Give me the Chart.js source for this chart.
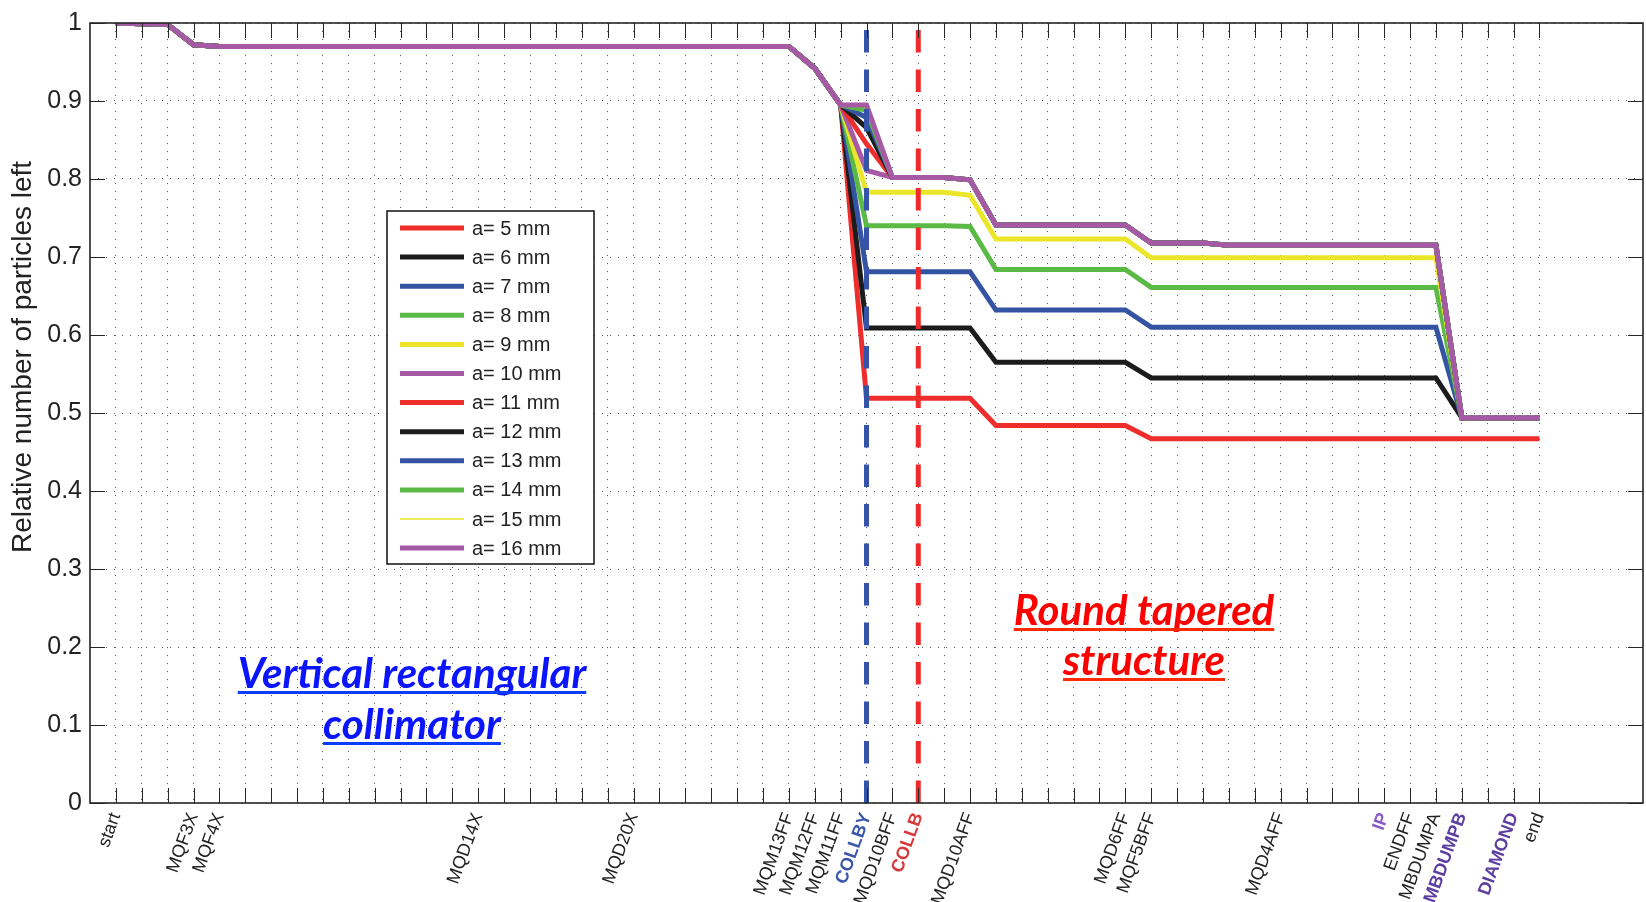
<!DOCTYPE html>
<html>
<head>
<meta charset="utf-8">
<title>Relative number of particles left</title>
<script src="https://cdn.jsdelivr.net/npm/chart.js@4.4.1/dist/chart.umd.min.js"></script>
<style>
  html, body { margin: 0; padding: 0; background: #fff; }
  #wrap { width: 1646px; height: 902px; }
</style>
</head>
<body>
<div id="wrap"><canvas id="chart" width="1646" height="902"></canvas></div>
<script>
/* ========== DATA ========== */

// beamline elements, one per x position (1..56); '' = not labelled
const elements = [
  'start','','','MQF3X','MQF4X','','','','','','','','','',                 // 1-14
  'MQD14X','','','','','','MQD20X','','','','','',                          // 15-26
  'MQM13FF','MQM12FF','MQM11FF','COLLBY','MQD10BFF','COLLB','','MQD10AFF',  // 27-34
  '','','','','','MQD6FF','MQF5BFF','','','','','MQD4AFF',                  // 35-46
  '','','','IP','ENDFF','MBDUMPA','MBDUMPB','','DIAMOND','end'              // 47-56
];

// highlighted element names on the axis
const labelColors = { COLLBY: '#3a56a8', COLLB: '#d8383a', IP: '#8c5ac6', MBDUMPB: '#5c3ea0', DIAMOND: '#5c3ea0' };

const apertures  = [5, 6, 7, 8, 9, 10, 11, 12, 13, 14, 15, 16]; // mm
const lineColors = ['#ee2d2d','#1c1c1c','#3553a3','#5bb946','#ece62a','#a65aa6',
                    '#ee2d2d','#1c1c1c','#3553a3','#5bb946','#ece62a','#a65aa6'];
const lineWidths = [5, 5, 5, 5, 5, 5, 5, 5, 5, 5, 1.5, 5];

// same for every aperture up to MQM11FF (elements 1-29)
const upstream = [1.000, 0.999, 0.998, 0.972,
  0.970, 0.970, 0.970, 0.970, 0.970, 0.970, 0.970, 0.970, 0.970, 0.970, 0.970, 0.970,
  0.970, 0.970, 0.970, 0.970, 0.970, 0.970, 0.970, 0.970, 0.970, 0.970, 0.970,
  0.942, 0.895];

// elements 30-56 (COLLBY .. end)
const tail5  = [0.519, 0.519, 0.519, 0.519, 0.519, 0.484, 0.484, 0.484, 0.484, 0.484, 0.484,
                0.467, 0.467, 0.467, 0.467, 0.467, 0.467, 0.467, 0.467, 0.467, 0.467, 0.467, 0.467, 0.467, 0.467, 0.467, 0.467];
const tail6  = [0.609, 0.609, 0.609, 0.609, 0.609, 0.565, 0.565, 0.565, 0.565, 0.565, 0.565,
                0.545, 0.545, 0.545, 0.545, 0.545, 0.545, 0.545, 0.545, 0.545, 0.545, 0.545, 0.545, 0.494, 0.494, 0.494, 0.494];
const tail7  = [0.681, 0.681, 0.681, 0.681, 0.681, 0.632, 0.632, 0.632, 0.632, 0.632, 0.632,
                0.610, 0.610, 0.610, 0.610, 0.610, 0.610, 0.610, 0.610, 0.610, 0.610, 0.610, 0.610, 0.494, 0.494, 0.494, 0.494];
const tail8  = [0.740, 0.740, 0.740, 0.740, 0.739, 0.684, 0.684, 0.684, 0.684, 0.684, 0.684,
                0.661, 0.661, 0.661, 0.661, 0.661, 0.661, 0.661, 0.661, 0.661, 0.661, 0.661, 0.661, 0.494, 0.494, 0.494, 0.494];
const tail9  = [0.783, 0.783, 0.783, 0.783, 0.779, 0.723, 0.723, 0.723, 0.723, 0.723, 0.723,
                0.699, 0.699, 0.699, 0.699, 0.699, 0.699, 0.699, 0.699, 0.699, 0.699, 0.699, 0.699, 0.494, 0.494, 0.494, 0.494];
const tail10 = [0.811, 0.802, 0.802, 0.802, 0.799, 0.741, 0.741, 0.741, 0.741, 0.741, 0.741,
                0.718, 0.718, 0.718, 0.715, 0.715, 0.715, 0.715, 0.715, 0.715, 0.715, 0.715, 0.715, 0.494, 0.494, 0.494, 0.494];
const tail11 = [0.845, 0.802, 0.802, 0.802, 0.799, 0.741, 0.741, 0.741, 0.741, 0.741, 0.741,
                0.718, 0.718, 0.718, 0.715, 0.715, 0.715, 0.715, 0.715, 0.715, 0.715, 0.715, 0.715, 0.494, 0.494, 0.494, 0.494];
const tail12 = [0.866, 0.802, 0.802, 0.802, 0.799, 0.741, 0.741, 0.741, 0.741, 0.741, 0.741,
                0.718, 0.718, 0.718, 0.715, 0.715, 0.715, 0.715, 0.715, 0.715, 0.715, 0.715, 0.715, 0.494, 0.494, 0.494, 0.494];
const tail13 = [0.879, 0.802, 0.802, 0.802, 0.799, 0.741, 0.741, 0.741, 0.741, 0.741, 0.741,
                0.718, 0.718, 0.718, 0.715, 0.715, 0.715, 0.715, 0.715, 0.715, 0.715, 0.715, 0.715, 0.494, 0.494, 0.494, 0.494];
const tail14 = [0.888, 0.802, 0.802, 0.802, 0.799, 0.741, 0.741, 0.741, 0.741, 0.741, 0.741,
                0.718, 0.718, 0.718, 0.715, 0.715, 0.715, 0.715, 0.715, 0.715, 0.715, 0.715, 0.715, 0.494, 0.494, 0.494, 0.494];
const tail15 = [0.893, 0.802, 0.802, 0.802, 0.799, 0.741, 0.741, 0.741, 0.741, 0.741, 0.741,
                0.718, 0.718, 0.718, 0.715, 0.715, 0.715, 0.715, 0.715, 0.715, 0.715, 0.715, 0.715, 0.494, 0.494, 0.494, 0.494];
const tail16 = [0.895, 0.802, 0.802, 0.802, 0.799, 0.741, 0.741, 0.741, 0.741, 0.741, 0.741,
                0.718, 0.718, 0.718, 0.715, 0.715, 0.715, 0.715, 0.715, 0.715, 0.715, 0.715, 0.715, 0.494, 0.494, 0.494, 0.494];
const tails = [tail5, tail6, tail7, tail8, tail9, tail10, tail11, tail12, tail13, tail14, tail15, tail16];

// collimator markers (vertical dashed lines)
const markers = [
  { name: 'COLLBY', color: '#3553a8' },
  { name: 'COLLB',  color: '#ee2a2a' }
];

const FONT = "'Liberation Sans', Arial, Helvetica, sans-serif";

/* ========== DATASETS ========== */

const datasets = apertures.map((a, i) => ({
  label: 'a= ' + a + ' mm',
  data: upstream.concat(tails[i]).map((v, k) => ({ x: k + 1, y: v })),
  borderColor: lineColors[i],
  borderWidth: lineWidths[i],
  order: apertures.length - i,     // larger apertures drawn on top
  pointRadius: 0,
  tension: 0
}));

markers.forEach(m => {
  const pos = elements.indexOf(m.name) + 1;
  datasets.push({
    label: m.name,
    data: [{ x: pos, y: 0 }, { x: pos, y: 1 }],
    borderColor: m.color,
    borderWidth: 5,
    borderDash: [22.5, 17],
    order: 0,
    pointRadius: 0
  });
});

/* ========== PLUGINS ========== */

// box, inward tick marks, y title, text notes and the legend
const decorations = {
  id: 'decorations',
  afterDraw(chart) {
    const { ctx, chartArea: a, scales: { x, y } } = chart;
    ctx.save();

    ctx.strokeStyle = '#262626';
    ctx.lineWidth = 1;
    ctx.beginPath();
    x.ticks.forEach(t => {
      const px = Math.round(x.getPixelForValue(t.value)) + 0.5;
      ctx.moveTo(px, a.bottom); ctx.lineTo(px, a.bottom - 15);
      ctx.moveTo(px, a.top);    ctx.lineTo(px, a.top + 15);
    });
    y.ticks.forEach(t => {
      const py = Math.round(y.getPixelForValue(t.value)) + 0.5;
      ctx.moveTo(a.left, py);  ctx.lineTo(a.left + 15, py);
      ctx.moveTo(a.right, py); ctx.lineTo(a.right - 15, py);
    });
    ctx.stroke();
    ctx.lineWidth = 1.6;
    ctx.strokeRect(a.left, a.top, a.right - a.left, a.bottom - a.top);

    // y axis title
    ctx.save();
    ctx.translate(23, 357);
    ctx.rotate(-Math.PI / 2);
    ctx.fillStyle = '#222';
    ctx.font = '28px ' + FONT;
    ctx.textAlign = 'center';
    ctx.textBaseline = 'middle';
    ctx.fillText('Relative number of particles left', 0, 0);
    ctx.restore();

    // region notes, underlined
    const notes = [
      { lines: ['Vertical rectangular', 'collimator'], cx: 412, base: [688, 739], color: '#0a14ff', line: '#0a3cff' },
      { lines: ['Round tapered', 'structure'], cx: 1144, base: [625, 675], color: '#ff0000', line: '#ff2a00' }
    ];
    ctx.font = "italic bold 42px Lato, 'Open Sans', sans-serif";
    ctx.textAlign = 'center';
    ctx.textBaseline = 'alphabetic';
    notes.forEach(n => {
      n.lines.forEach((s, i) => {
        const w = ctx.measureText(s).width;
        ctx.fillStyle = n.color;
        ctx.fillText(s, n.cx, n.base[i]);
        ctx.fillStyle = n.line;
        ctx.fillRect(n.cx - w / 2, n.base[i] + 3, w, 3);
      });
    });

    // legend box
    const lx = 387, ly = 211, lw = 207, lh = 353, row = 29.1;
    ctx.fillStyle = '#fff';
    ctx.fillRect(lx, ly, lw, lh);
    ctx.strokeStyle = '#111';
    ctx.lineWidth = 1.5;
    ctx.strokeRect(lx, ly, lw, lh);
    ctx.font = '20px ' + FONT;
    ctx.textAlign = 'left';
    ctx.textBaseline = 'middle';
    apertures.forEach((ap, i) => {
      const ds = chart.data.datasets[i];
      const cy = ly + 17 + i * row;
      ctx.strokeStyle = ds.borderColor;
      ctx.lineWidth = ds.borderWidth;
      ctx.beginPath();
      ctx.moveTo(lx + 13, cy); ctx.lineTo(lx + 77, cy);
      ctx.stroke();
      ctx.fillStyle = '#222';
      ctx.fillText(ds.label, lx + 85, cy + 1);
    });

    ctx.restore();
  }
};

/* ========== CHART ========== */

const markedColor = c => (c && c.tick) ? labelColors[elements[c.tick.value - 1]] : undefined;

new Chart(document.getElementById('chart').getContext('2d'), {
  type: 'line',
  data: { datasets },
  options: {
    responsive: false,
    animation: false,
    devicePixelRatio: 1,
    layout: { padding: { top: 18, right: 3, left: 0, bottom: 0 } },
    plugins: { legend: { display: false }, tooltip: { enabled: false } },
    scales: {
      x: {
        type: 'linear',
        min: 0,
        max: 60,
        afterBuildTicks: s => { s.ticks = elements.map((_, i) => ({ value: i + 1 })); },
        afterFit: s => { s.height = 99; s.paddingLeft = 0; s.paddingRight = 0; },
        grid: { color: '#5a5a5a', lineWidth: 1, drawTicks: false },
        border: { display: false, dash: [1, 7] },
        ticks: {
          autoSkip: false,
          minRotation: 70,
          maxRotation: 70,
          padding: 7,
          callback: v => elements[v - 1] || '',
          color: c => markedColor(c) || '#222',
          font: c => ({ family: FONT, size: 18, weight: markedColor(c) ? 'bold' : 'normal' })
        }
      },
      y: {
        min: 0,
        max: 1,
        afterFit: s => { s.width = 90; },
        grid: { color: '#5a5a5a', lineWidth: 1, drawTicks: false },
        border: { display: false, dash: [1, 7] },
        ticks: {
          stepSize: 0.1,
          padding: 8,
          color: '#222',
          font: { family: FONT, size: 25 },
          callback: v => String(Math.round(v * 10) / 10)
        }
      }
    }
  },
  plugins: [decorations]
});
</script>
</body>
</html>
